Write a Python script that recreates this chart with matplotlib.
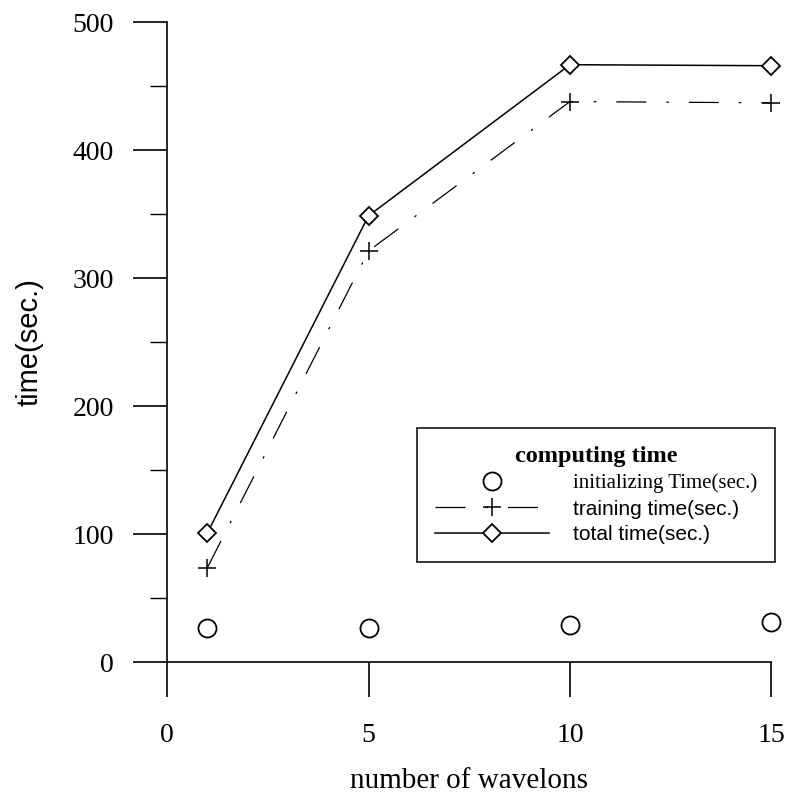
import matplotlib
matplotlib.use("Agg")
import matplotlib.pyplot as plt
from matplotlib.ticker import MultipleLocator

wavelons = [1, 5, 10, 15]
init_time = [27.0, 26.7, 29.3, 31.0]
train_time = [73.8, 321.3, 438.0, 437.0]
total_time = [101.0, 348.8, 466.8, 466.0]
x_ticks = [0, 5, 10, 15]

SERIF = "Liberation Serif"
SANS = "Liberation Sans"

fig = plt.figure(figsize=(7.92, 7.93), dpi=100)
fig.patch.set_facecolor("white")
ax = fig.add_axes([0.211, 0.165, 0.763, 0.807])

ax.plot(wavelons, init_time, ls="none", marker="o", ms=13, mfc="white", mec="black",
        mew=1.3, clip_on=False, label="initializing Time(sec.)")
ax.plot(wavelons, train_time, color="black", lw=0.9, ls=(0, (24, 16, 2, 16)),
        marker="+", ms=13, mew=1.1, clip_on=False, label="training time(sec.)")
ax.plot(wavelons, total_time, color="black", lw=1.1, marker="D", ms=9.2,
        mfc="white", mec="black", mew=1.3, clip_on=False, label="total time(sec.)")

ax.set_xlim(0, 15)
ax.set_ylim(0, 500)
ax.set_xticks(x_ticks)
ax.yaxis.set_major_locator(MultipleLocator(100))
ax.yaxis.set_minor_locator(MultipleLocator(50))
for s in ("top", "right"):
    ax.spines[s].set_visible(False)
for s in ("left", "bottom"):
    ax.spines[s].set_linewidth(1.2)
ax.tick_params(axis="y", which="major", direction="out", length=24.5, width=1.2, pad=14)
ax.tick_params(axis="y", which="minor", direction="out", length=12, width=1.0)
ax.tick_params(axis="x", which="major", direction="out", length=25, width=1.2, pad=19)
for lbl in ax.get_xticklabels() + ax.get_yticklabels():
    lbl.set_fontfamily(SERIF)
    lbl.set_fontsize(20)

ax.set_xlabel("number of wavelons", fontfamily=SERIF, fontsize=21, labelpad=14)
ax.set_ylabel("time(sec.)", fontfamily=SANS, fontsize=21, labelpad=21)

leg = ax.legend(loc="upper left", bbox_to_anchor=(0.5265, 0.4603), bbox_transform=fig.transFigure,
                borderaxespad=0, title="computing time", frameon=True, fancybox=False,
                framealpha=1, edgecolor="black", handlelength=5.5, handletextpad=1.15,
                borderpad=0.85, labelspacing=0.32, fontsize=15)
leg.get_frame().set_linewidth(1.1)
leg.get_title().set_fontfamily(SERIF)
leg.get_title().set_fontweight("bold")
leg.get_title().set_fontsize(17.5)
texts = leg.get_texts()
texts[0].set_fontfamily(SERIF)
texts[1].set_fontfamily(SANS)
texts[2].set_fontfamily(SANS)

fig.savefig("out.png", dpi=100)
